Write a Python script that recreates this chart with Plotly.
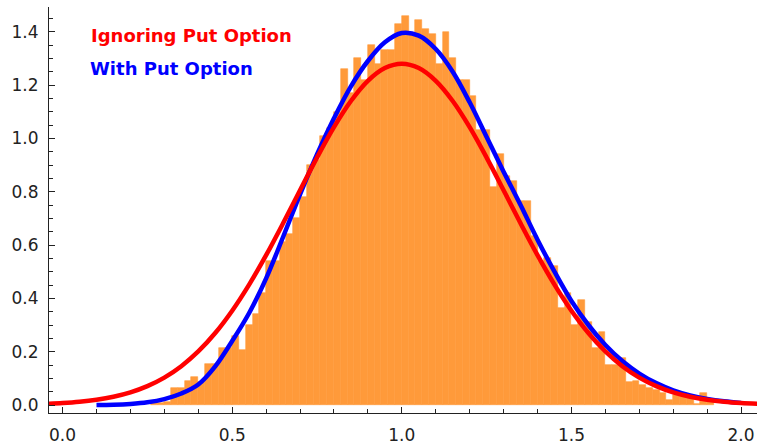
import plotly.graph_objects as go

# Simulated outcome histogram (bin left edges, width 0.02) and density heights
bin_left = [0.26, 0.28, 0.30, 0.32, 0.34, 0.36, 0.38, 0.40, 0.42, 0.44,
            0.46, 0.48, 0.50, 0.52, 0.54, 0.56, 0.58, 0.60, 0.62, 0.64,
            0.66, 0.68, 0.70, 0.72, 0.74, 0.76, 0.78, 0.80, 0.82, 0.84,
            0.86, 0.88, 0.90, 0.92, 0.94, 0.96, 0.98, 1.00, 1.02, 1.04,
            1.06, 1.08, 1.10, 1.12, 1.14, 1.16, 1.18, 1.20, 1.22, 1.24,
            1.26, 1.28, 1.30, 1.32, 1.34, 1.36, 1.38, 1.40, 1.42, 1.44,
            1.46, 1.48, 1.50, 1.52, 1.54, 1.56, 1.58, 1.60, 1.62, 1.64,
            1.66, 1.68, 1.70, 1.72, 1.74, 1.76, 1.78, 1.80, 1.82, 1.84,
            1.86, 1.88, 1.90]
bin_height = [0.008, 0.008, 0.012, 0.062, 0.062, 0.090, 0.105, 0.085, 0.155, 0.155,
              0.215, 0.215, 0.260, 0.205, 0.300, 0.340, 0.420, 0.540, 0.540, 0.610,
              0.640, 0.700, 0.780, 0.900, 0.920, 1.010, 1.040, 1.100, 1.260, 1.170,
              1.300, 1.220, 1.350, 1.280, 1.330, 1.330, 1.430, 1.460, 1.390, 1.445,
              1.410, 1.390, 1.280, 1.400, 1.300, 1.220, 1.220, 1.160, 1.030, 1.030,
              0.816, 0.940, 0.860, 0.840, 0.766, 0.766, 0.635, 0.540, 0.550, 0.520,
              0.362, 0.420, 0.300, 0.393, 0.310, 0.213, 0.275, 0.150, 0.150, 0.175,
              0.088, 0.090, 0.075, 0.065, 0.055, 0.045, 0.018, 0.038, 0.035, 0.030,
              0.004, 0.045, 0.020]
bin_width = 0.02

# Density ignoring the put option
red_x = [-0.05, 0.00, 0.05, 0.10, 0.15, 0.20, 0.25, 0.30, 0.35, 0.40,
         0.45, 0.50, 0.55, 0.60, 0.65, 0.70, 0.75, 0.80, 0.85, 0.90,
         0.95, 1.00, 1.05, 1.10, 1.15, 1.20, 1.25, 1.30, 1.35, 1.40,
         1.45, 1.50, 1.55, 1.60, 1.65, 1.70, 1.75, 1.80, 1.85, 1.90,
         1.95, 2.00, 2.05]
red_y = [0.0044, 0.0075, 0.0123, 0.0198, 0.0311, 0.0475, 0.0708, 0.1028, 0.1455, 0.2007,
         0.2698, 0.3536, 0.4514, 0.5618, 0.6814, 0.8055, 0.9279, 1.0419, 1.1400, 1.2157,
         1.2636, 1.2800, 1.2636, 1.2157, 1.1400, 1.0419, 0.9279, 0.8055, 0.6814, 0.5618,
         0.4514, 0.3536, 0.2698, 0.2007, 0.1455, 0.1028, 0.0708, 0.0475, 0.0311, 0.0198,
         0.0123, 0.0075, 0.0044]

# Density with the put option
blue_x = [0.10, 0.15, 0.20, 0.25, 0.30, 0.35, 0.40, 0.45, 0.50, 0.55,
          0.60, 0.65, 0.70, 0.75, 0.80, 0.85, 0.90, 0.95, 1.00, 1.05,
          1.10, 1.15, 1.20, 1.25, 1.30, 1.35, 1.40, 1.45, 1.50, 1.55,
          1.60, 1.65, 1.70, 1.75, 1.80, 1.85, 1.90, 1.95, 2.00]
blue_y = [0.000, 0.001, 0.004, 0.010, 0.022, 0.043, 0.077, 0.145, 0.240, 0.345,
          0.475, 0.630, 0.790, 0.940, 1.075, 1.195, 1.290, 1.360, 1.395, 1.385,
          1.335, 1.250, 1.135, 1.005, 0.875, 0.750, 0.620, 0.500, 0.390, 0.300,
          0.225, 0.165, 0.118, 0.082, 0.055, 0.036, 0.023, 0.014, 0.008]

series_names = ["Ignoring Put Option", "With Put Option"]
x_ticks = [0.0, 0.5, 1.0, 1.5, 2.0]
y_ticks = [0.0, 0.2, 0.4, 0.6, 0.8, 1.0, 1.2, 1.4]

ORANGE = "#FF9A3A"
RED = "#FF0000"
BLUE = "#0000FF"

fig = go.Figure()

fig.add_trace(go.Bar(
    x=bin_left, y=bin_height, width=bin_width, offset=0,
    marker=dict(color=ORANGE, line=dict(color=ORANGE, width=0.6)),
    hoverinfo="skip", showlegend=False,
))
fig.add_trace(go.Scatter(
    x=blue_x, y=blue_y, mode="lines", line=dict(color=BLUE, width=4.5, shape="spline"),
    name=series_names[1], showlegend=False,
))
fig.add_trace(go.Scatter(
    x=red_x, y=red_y, mode="lines", line=dict(color=RED, width=4.5, shape="spline"),
    name=series_names[0], showlegend=False,
))

# Coloured text labels acting as the legend
fig.add_annotation(text="<b>%s</b>" % series_names[0], xref="paper", yref="paper",
                   x=(89 - 49) / 708, y=(415 - 36) / 408, xanchor="left", yanchor="middle",
                   showarrow=False, font=dict(family="DejaVu Sans", size=18, color=RED))
fig.add_annotation(text="<b>%s</b>" % series_names[1], xref="paper", yref="paper",
                   x=(88 - 49) / 708, y=(415 - 69) / 408, xanchor="left", yanchor="middle",
                   showarrow=False, font=dict(family="DejaVu Sans", size=18, color=BLUE))

axis_font = dict(family="DejaVu Sans", size=17, color="#222222")

fig.update_xaxes(
    range=[-0.040, 2.047], showgrid=False, zeroline=False,
    showline=True, linecolor="#222222", linewidth=1.2,
    tickmode="array", tickvals=x_ticks, ticktext=["%.1f" % v for v in x_ticks],
    ticks="inside", ticklen=6, tickcolor="#222222", tickwidth=1.2,
    minor=dict(dtick=0.1, ticks="inside", ticklen=3.5, tickcolor="#222222", tickwidth=1),
    tickfont=axis_font, ticklabelstandoff=6,
)
fig.update_yaxes(
    range=[-0.030, 1.4925], showgrid=False, zeroline=False,
    showline=True, linecolor="#222222", linewidth=1.2,
    tickmode="array", tickvals=y_ticks, ticktext=["%.1f" % v for v in y_ticks],
    ticks="inside", ticklen=6, tickcolor="#222222", tickwidth=1.2,
    minor=dict(dtick=0.05, ticks="inside", ticklen=3.5, tickcolor="#222222", tickwidth=1),
    tickfont=axis_font, ticklabelstandoff=6,
)

fig.update_layout(
    width=757, height=445,
    margin=dict(l=49, r=0, t=7, b=30),
    paper_bgcolor="white", plot_bgcolor="white",
    bargap=0, showlegend=False,
)

fig.write_html("out.html")
